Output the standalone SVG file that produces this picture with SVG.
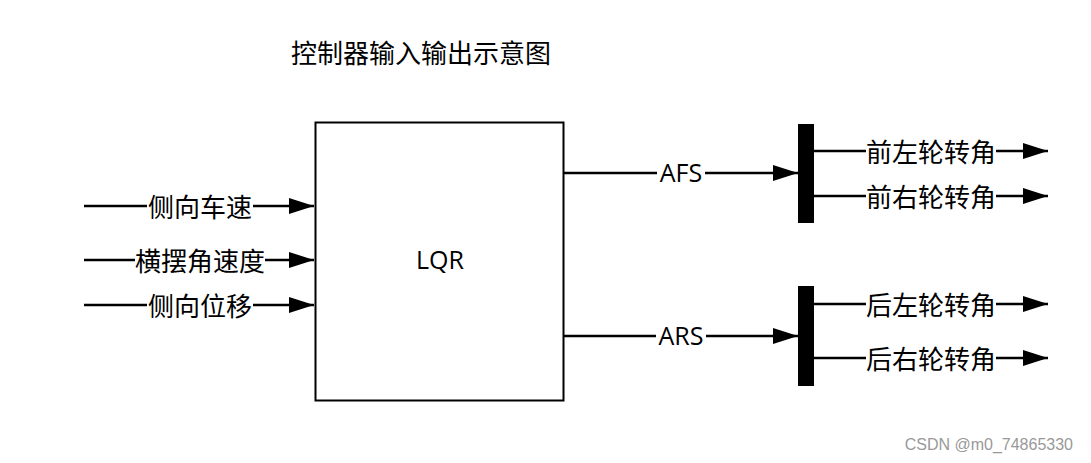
<svg xmlns="http://www.w3.org/2000/svg" width="1091" height="463" viewBox="0 0 1091 463">
<style>
.ln{stroke:#000;stroke-width:2.5;fill:none}
.lbl{font-family:"Noto Sans CJK SC","Noto Sans",sans-serif;font-size:26px;fill:#000;text-anchor:middle;dominant-baseline:central}
.lat{font-family:"Open Sans","Noto Sans",sans-serif;font-size:25px;fill:#000;text-anchor:middle;dominant-baseline:central}
.bg{fill:#fff}
</style>
<defs>
<marker id="ah" markerWidth="25" markerHeight="16" refX="25" refY="8" orient="auto" markerUnits="userSpaceOnUse">
<path d="M0,0 L25,8 L0,16 Z" fill="#000"/>
</marker>
</defs>
<rect width="1091" height="463" fill="#fff"/>
<g id="title"><text class="lbl" x="421" y="51">控制器输入输出示意图</text></g>
<g id="lqr">
<rect x="315.5" y="122.5" width="248" height="278" fill="#fff" stroke="#000" stroke-width="2"/>
<text class="lat" x="440" y="259">LQR</text>
</g>
<g id="bar-front"><rect x="798" y="124" width="16" height="99" fill="#000"/></g>
<g id="bar-rear"><rect x="798" y="286" width="16" height="100" fill="#000"/></g>
<g id="connectors">
<line class="ln" x1="84" y1="206" x2="314" y2="206" marker-end="url(#ah)"/>
<line class="ln" x1="84" y1="260" x2="314" y2="260" marker-end="url(#ah)"/>
<line class="ln" x1="84" y1="305" x2="314" y2="305" marker-end="url(#ah)"/>
<line class="ln" x1="564" y1="173" x2="798" y2="173" marker-end="url(#ah)"/>
<line class="ln" x1="564" y1="336" x2="798" y2="336" marker-end="url(#ah)"/>
<line class="ln" x1="814" y1="151" x2="1048" y2="151" marker-end="url(#ah)"/>
<line class="ln" x1="814" y1="196" x2="1048" y2="196" marker-end="url(#ah)"/>
<line class="ln" x1="814" y1="304" x2="1048" y2="304" marker-end="url(#ah)"/>
<line class="ln" x1="814" y1="358" x2="1048" y2="358" marker-end="url(#ah)"/>
<rect class="bg" x="147" y="190" width="106" height="32"/>
<rect class="bg" x="135" y="244" width="130" height="32"/>
<rect class="bg" x="147" y="289" width="106" height="32"/>
<rect class="bg" x="657" y="157" width="48" height="32"/>
<rect class="bg" x="656" y="320" width="50" height="32"/>
<rect class="bg" x="866" y="135" width="130" height="32"/>
<rect class="bg" x="866" y="180" width="130" height="32"/>
<rect class="bg" x="866" y="288" width="130" height="32"/>
<rect class="bg" x="866" y="342" width="130" height="32"/>
<text class="lbl" x="200" y="205">侧向车速</text>
<text class="lbl" x="200" y="259">横摆角速度</text>
<text class="lbl" x="200" y="304">侧向位移</text>
<text class="lat" x="681" y="172">AFS</text>
<text class="lat" x="681" y="335">ARS</text>
<text class="lbl" x="931" y="150">前左轮转角</text>
<text class="lbl" x="931" y="195">前右轮转角</text>
<text class="lbl" x="931" y="303">后左轮转角</text>
<text class="lbl" x="931" y="357">后右轮转角</text>
</g>
<g id="watermark"><text x="1073" y="444" text-anchor="end" dominant-baseline="central" font-family="Liberation Sans,Arial,sans-serif" font-size="16" fill="#999">CSDN @m0_74865330</text></g>
</svg>
